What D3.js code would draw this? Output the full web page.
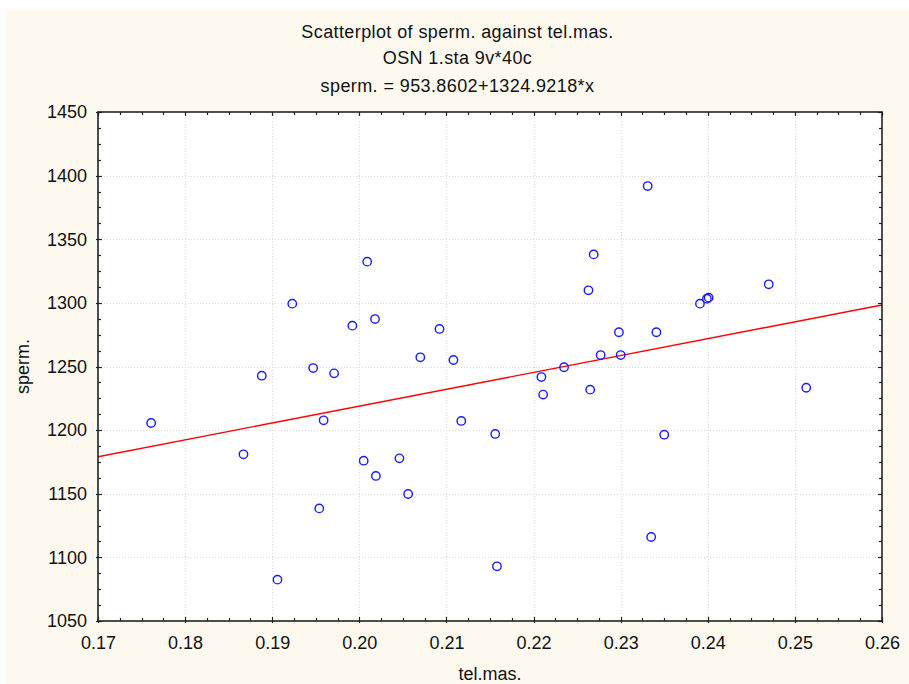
<!DOCTYPE html>
<html>
<head>
<meta charset="utf-8">
<script src="https://cdn.jsdelivr.net/npm/d3@7"></script>
<style>
  html, body { margin: 0; padding: 0; background: #ffffff; }
  svg { display: block; }
  text { font-family: "Liberation Sans", Arial, sans-serif; fill: #111; }
</style>
</head>
<body>
<script>
// ---- data ----
const telMas = [0.1761, 0.1867, 0.1888, 0.1906, 0.1923, 0.1947, 0.1954, 0.1959, 0.1971, 0.1992,
                0.2005, 0.2009, 0.2018, 0.2019, 0.2046, 0.2056, 0.2070, 0.2092, 0.2108, 0.2117,
                0.2156, 0.2158, 0.2209, 0.2211, 0.2235, 0.2263, 0.2265, 0.2269, 0.2277, 0.2298,
                0.2300, 0.2331, 0.2335, 0.2341, 0.2350, 0.2391, 0.2399, 0.2401, 0.2470, 0.2513];
const sperm  = [1205.6, 1181.0, 1242.8, 1082.5, 1299.4, 1248.8, 1138.5, 1207.7, 1244.6, 1282.1,
                1176.0, 1332.4, 1287.3, 1164.0, 1177.8, 1149.8, 1257.2, 1279.5, 1255.1, 1207.2,
                1197.0, 1093.0, 1241.7, 1227.9, 1249.4, 1309.9, 1231.8, 1338.1, 1259.0, 1276.9,
                1259.0, 1391.8, 1116.0, 1276.9, 1196.4, 1299.4, 1303.3, 1304.1, 1314.6, 1233.3];
const xTicks = [0.17, 0.18, 0.19, 0.20, 0.21, 0.22, 0.23, 0.24, 0.25, 0.26];
const yTicks = [1050, 1100, 1150, 1200, 1250, 1300, 1350, 1400, 1450];
const xDomain = [0.17, 0.26];
const yDomain = [1050, 1450];
const fitIntercept = 953.8602;
const fitSlope = 1324.9218;
const titleLines = ["Scatterplot of sperm. against tel.mas.", "OSN 1.sta 9v*40c", "sperm. = 953.8602+1324.9218*x"];
const xLabel = "tel.mas.";
const yLabel = "sperm.";

// ---- layout ----
const W = 909, H = 684;
const plot = { left: 98, right: 882, top: 112, bottom: 621 };

const svg = d3.select("body").append("svg").attr("width", W).attr("height", H);

svg.append("rect").attr("x", 6).attr("y", 10).attr("width", W - 6).attr("height", H - 10)
   .attr("fill", "#fdf9ef");

const x = d3.scaleLinear().domain(xDomain).range([plot.left, plot.right]);
const y = d3.scaleLinear().domain(yDomain).range([plot.bottom, plot.top]);

svg.append("rect").attr("x", plot.left).attr("y", plot.top)
   .attr("width", plot.right - plot.left).attr("height", plot.bottom - plot.top)
   .attr("fill", "#ffffff");

// grid
const grid = svg.append("g").attr("stroke", "#dadada").attr("stroke-width", 1).attr("stroke-dasharray", "1,2");
grid.selectAll("line.gx").data(xTicks.slice(1, -1)).join("line")
  .attr("x1", d => Math.round(x(d)) + 0.5).attr("x2", d => Math.round(x(d)) + 0.5)
  .attr("y1", plot.top).attr("y2", plot.bottom);
grid.selectAll("line.gy").data(yTicks.slice(1, -1)).join("line")
  .attr("y1", d => Math.round(y(d)) + 0.5).attr("y2", d => Math.round(y(d)) + 0.5)
  .attr("x1", plot.left).attr("x2", plot.right);

// regression line
const clip = svg.append("clipPath").attr("id", "clip").append("rect")
  .attr("x", plot.left).attr("y", plot.top).attr("width", plot.right - plot.left).attr("height", plot.bottom - plot.top);
svg.append("line")
  .attr("clip-path", "url(#clip)")
  .attr("x1", x(xDomain[0])).attr("y1", y(fitIntercept + fitSlope * xDomain[0]))
  .attr("x2", x(xDomain[1])).attr("y2", y(fitIntercept + fitSlope * xDomain[1]))
  .attr("stroke", "#ff0000").attr("stroke-width", 1.4);

// points
svg.append("g").selectAll("circle").data(telMas.map((d, i) => [d, sperm[i]])).join("circle")
  .attr("cx", d => x(d[0])).attr("cy", d => y(d[1])).attr("r", 4.2)
  .attr("fill", "none").attr("stroke", "#1a1aff").attr("stroke-width", 1.4);

// axes with inward ticks on all four sides
const minorX = d3.range(0, 37).map(i => xDomain[0] + i * 0.0025);
const minorY = d3.range(0, 33).map(i => yDomain[0] + i * 12.5);
const frame = svg.append("g").attr("stroke", "#222").attr("fill", "none");

const axB = d3.axisBottom(x).tickValues(xTicks).tickFormat(d3.format(".2f")).tickSize(0).tickPadding(15);
const gB = svg.append("g").attr("transform", `translate(0,${plot.bottom})`).call(axB);
gB.select(".domain").remove();
gB.selectAll("text").attr("font-size", 18).attr("fill", "#111")
  .style("font-family", '"Liberation Sans", Arial, sans-serif');

const axL = d3.axisLeft(y).tickValues(yTicks).tickFormat(d3.format("d")).tickSize(0).tickPadding(11);
const gL = svg.append("g").attr("transform", `translate(${plot.left},0)`).call(axL);
gL.select(".domain").remove();
gL.selectAll("text").attr("font-size", 18).attr("fill", "#111")
  .style("font-family", '"Liberation Sans", Arial, sans-serif');

const isMajorX = v => xTicks.some(t => Math.abs(t - v) < 1e-9);
const isMajorY = v => yTicks.some(t => Math.abs(t - v) < 1e-9);

frame.selectAll("line.tb").data(minorX).join("line")
  .attr("x1", d => Math.round(x(d)) + 0.5).attr("x2", d => Math.round(x(d)) + 0.5)
  .attr("y1", d => plot.bottom + (isMajorX(d) ? 2 : 0)).attr("y2", d => plot.bottom - (isMajorX(d) ? 4 : 3))
  .attr("stroke-width", 1.2);
frame.selectAll("line.tt").data(minorX).join("line")
  .attr("x1", d => Math.round(x(d)) + 0.5).attr("x2", d => Math.round(x(d)) + 0.5)
  .attr("y1", plot.top).attr("y2", d => plot.top + (isMajorX(d) ? 4 : 3))
  .attr("stroke-width", 1.2);
frame.selectAll("line.tl").data(minorY).join("line")
  .attr("y1", d => Math.round(y(d)) + 0.5).attr("y2", d => Math.round(y(d)) + 0.5)
  .attr("x1", d => plot.left - (isMajorY(d) ? 2 : 0)).attr("x2", d => plot.left + (isMajorY(d) ? 4 : 3))
  .attr("stroke-width", 1.2);
frame.selectAll("line.tr").data(minorY).join("line")
  .attr("y1", d => Math.round(y(d)) + 0.5).attr("y2", d => Math.round(y(d)) + 0.5)
  .attr("x1", plot.right).attr("x2", d => plot.right - (isMajorY(d) ? 4 : 3))
  .attr("stroke-width", 1.2);

frame.append("rect").attr("x", plot.left).attr("y", plot.top)
  .attr("width", plot.right - plot.left).attr("height", plot.bottom - plot.top)
  .attr("stroke-width", 1.6);

// titles
const cx = (6 + W) / 2;
const titleY = [38, 64, 92];
svg.selectAll("text.title").data(titleLines).join("text")
  .attr("class", "title")
  .attr("x", cx).attr("y", (d, i) => titleY[i])
  .attr("text-anchor", "middle").attr("font-size", 18).attr("letter-spacing", 0.4)
  .text(d => d);

svg.append("text").attr("x", (plot.left + plot.right) / 2).attr("y", 680)
  .attr("text-anchor", "middle").attr("font-size", 18).text(xLabel);

svg.append("text").attr("transform", `translate(29,${(plot.top + plot.bottom) / 2}) rotate(-90)`)
  .attr("text-anchor", "middle").attr("font-size", 18).text(yLabel);
</script>
</body>
</html>
